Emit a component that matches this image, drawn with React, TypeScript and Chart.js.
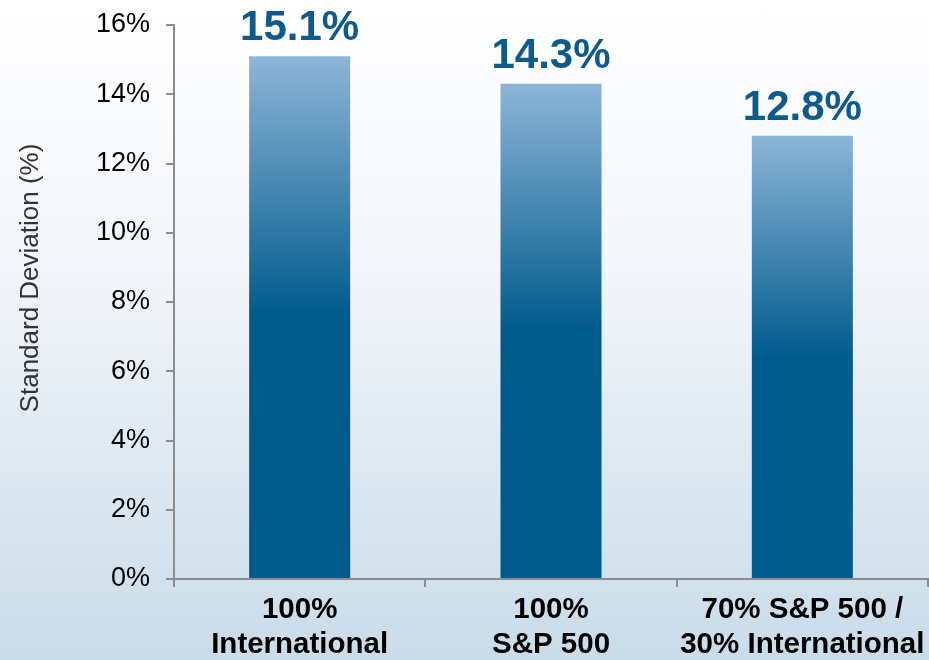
import React, { useEffect, useRef } from "react";
import { Chart, registerables } from "chart.js";

Chart.register(...registerables);

const categories: string[][] = [
  ["100%", "International"],
  ["100%", "S&P 500"],
  ["70% S&P 500 /", "30% International"],
];
const stdDevValues: number[] = [15.1, 14.3, 12.8];
const yTickMax = 16;
const yTickStep = 2;
const axisTitle = "Standard Deviation (%)";

const FONT = '"Liberation Sans", Arial, sans-serif';
const AXIS_GRAY = "#8c8c8c";

export default function App() {
  const canvasRef = useRef<HTMLCanvasElement | null>(null);

  useEffect(() => {
    const canvas = canvasRef.current;
    if (!canvas) return;

    const valueLabels = {
      id: "valueLabels",
      afterDatasetsDraw(chart: any) {
        const ctx = chart.ctx;
        const meta = chart.getDatasetMeta(0);
        ctx.save();
        ctx.font = `bold 42px ${FONT}`;
        ctx.fillStyle = "#0d5a8b";
        ctx.textAlign = "center";
        ctx.textBaseline = "alphabetic";
        meta.data.forEach((bar: any, i: number) => {
          ctx.fillText(stdDevValues[i].toFixed(1) + "%", bar.x, bar.y - 16);
        });
        ctx.restore();
      },
    };

    const yTitle = {
      id: "yTitle",
      afterDraw(chart: any) {
        const ctx = chart.ctx;
        ctx.save();
        ctx.translate(31, 278);
        ctx.rotate(-Math.PI / 2);
        ctx.font = `26px ${FONT}`;
        ctx.fillStyle = "#333333";
        ctx.textAlign = "center";
        ctx.textBaseline = "middle";
        ctx.fillText(axisTitle, 0, 0);
        ctx.restore();
      },
    };

    const chart = new Chart(canvas, {
      type: "bar",
      data: {
        labels: categories,
        datasets: [
          {
            data: stdDevValues,
            backgroundColor: (c: any) => {
              const ch = c.chart;
              const ys = ch.scales?.y;
              if (!ch.chartArea || !ys || c.raw == null) return "#005a8c";
              const top = ys.getPixelForValue(c.raw);
              const bot = ys.getPixelForValue(0);
              const g = ch.ctx.createLinearGradient(0, top, 0, bot);
              g.addColorStop(0, "#8db5d7");
              g.addColorStop(0.5, "#005a8c");
              g.addColorStop(1, "#005a8c");
              return g;
            },
            borderWidth: 0,
            barPercentage: 1,
            categoryPercentage: 0.402,
          },
        ],
      },
      options: {
        responsive: false,
        animation: false,
        layout: { padding: { top: 25, right: 1, left: 0, bottom: 0 } },
        plugins: {
          legend: { display: false },
          tooltip: { enabled: false },
          title: { display: false },
        },
        scales: {
          x: {
            grid: {
              offset: true,
              drawOnChartArea: false,
              tickLength: 8,
              color: AXIS_GRAY,
              lineWidth: 2,
            },
            border: { color: AXIS_GRAY, width: 2 },
            ticks: {
              color: "#000",
              font: { family: FONT, size: 29.5, weight: "bold", lineHeight: 1.19 },
              padding: 5,
              maxRotation: 0,
              autoSkip: false,
            },
            afterFit: (s: any) => {
              s.height = 81;
              s.paddingLeft = 0;
              s.paddingRight = 0;
            },
          },
          y: {
            min: 0,
            max: yTickMax,
            grid: {
              drawOnChartArea: false,
              tickLength: 8,
              color: AXIS_GRAY,
              lineWidth: 2,
            },
            border: { color: AXIS_GRAY, width: 2 },
            ticks: {
              stepSize: yTickStep,
              color: "#000",
              font: { family: FONT, size: 27 },
              padding: 16,
              callback: (v: any) => v + "%",
            },
            afterFit: (s: any) => {
              s.width = 174;
              s.paddingTop = 0;
              s.paddingBottom = 0;
            },
          },
        },
      },
      plugins: [valueLabels, yTitle],
    });

    return () => chart.destroy();
  }, []);

  return (
    <div
      style={{
        position: "fixed",
        left: 0,
        top: 0,
        width: 929,
        height: 660,
        background: "linear-gradient(to bottom, #ffffff 0%, #f3f6fa 40%, #c9dce9 100%)",
      }}
    >
      <canvas ref={canvasRef} width={929} height={660} style={{ display: "block" }} />
    </div>
  );
}
